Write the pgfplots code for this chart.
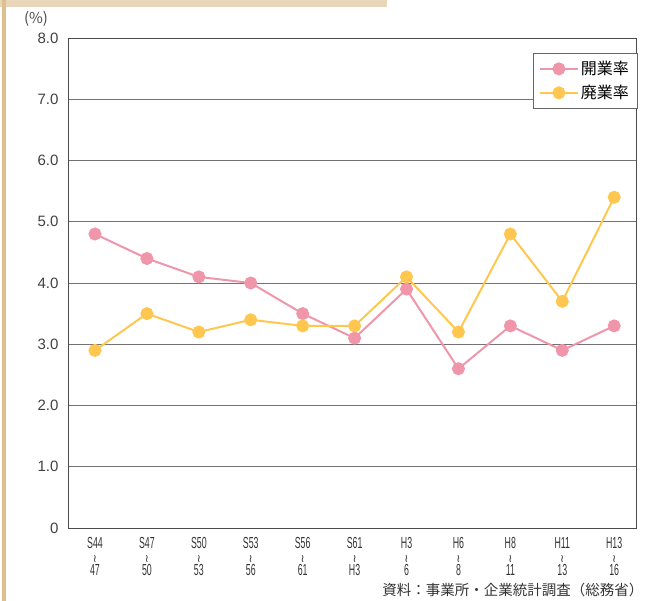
\documentclass[border=0pt]{standalone}
\usepackage{pgfplots}
\pgfplotsset{compat=1.18}
\usepackage{fontspec}
\setmainfont{Liberation Sans}
\newfontfamily\cjk{Noto Sans CJK JP}
\newfontfamily\dejavu{DejaVu Sans}
\newfontfamily\narrow[FakeStretch=0.55]{Liberation Sans}
\definecolor{kaigyo}{HTML}{F096AA}
\definecolor{haigyo}{HTML}{FFC74F}
\definecolor{tan}{HTML}{E9D6B8}
\definecolor{tanline}{HTML}{DDBF90}
\pgfplotstableread{
x open close
0 4.8 2.9
1 4.4 3.5
2 4.1 3.2
3 4.0 3.4
4 3.5 3.3
5 3.1 3.3
6 3.9 4.1
7 2.6 3.2
8 3.3 4.8
9 2.9 3.7
10 3.3 5.4
}\rates
\newcommand{\kara}{{\dejavu\fontsize{11bp}{11bp}\selectfont ≀}}
\newcommand{\lab}[2]{#1\\\kara\\#2}
\begin{document}
\begin{tikzpicture}[x=1bp,y=-1bp]
\path (0,0) rectangle (651,601);
\fill[tan] (0,0) rectangle (387,7);
\fill[tanline] (1.5,0) rectangle (6,601);
\begin{axis}[
  at={(68bp,-528bp)}, anchor=south west,
  scale only axis, width=568bp, height=490bp,
  xmin=-0.52, xmax=10.42, ymin=0, ymax=8,
  ytick={0,1,...,8},
  yticklabels={0,1.0,2.0,3.0,4.0,5.0,6.0,7.0,8.0},
  xtick={0,...,10},
  xticklabels={\lab{S44}{47},\lab{S47}{50},\lab{S50}{53},\lab{S53}{56},\lab{S56}{61},\lab{S61}{H3},\lab{H3}{6},\lab{H6}{8},\lab{H8}{11},\lab{H11}{13},\lab{H13}{16}},
  x tick label style={font=\narrow\fontsize{16bp}{13.5bp}\selectfont, align=center, text=black!80, yshift=-6bp},
  y tick label style={font=\fontsize{15bp}{17bp}\selectfont, text=black!75, xshift=-6bp},
  /pgf/number format/assume math mode=true,
  major tick length=0pt,
  ymajorgrids, grid style={black!55, line width=0.8bp},
  axis line style={black!70, line width=0.9bp},
  legend style={at={(1.002,0.969)}, anchor=north east, draw=black!60,
    font=\cjk\fontsize{16bp}{18bp}\selectfont, row sep=5bp, inner xsep=6bp, inner ysep=6bp},
  legend cell align=left,
  legend image code/.code={\draw[mark repeat=2,mark phase=2] plot coordinates {(0bp,0bp) (19bp,0bp) (38bp,0bp)};},
]
\addplot[kaigyo, line width=2bp, mark=*, mark size=5.5bp, mark options={fill=kaigyo, draw=kaigyo}] table[x=x, y=open] {\rates};
\addlegendentry{開業率}
\addplot[haigyo, line width=2bp, mark=*, mark size=5.5bp, mark options={fill=haigyo, draw=haigyo}] table[x=x, y=close] {\rates};
\addlegendentry{廃業率}
\end{axis}
\node[anchor=base, text=black!70, font=\cjk\fontsize{15bp}{16bp}\selectfont] at (36,24) {(\%)};
\node[anchor=base east, text=black!80, font=\cjk\fontsize{14.5bp}{16bp}\selectfont] at (647,595) {資料：事業所・企業統計調査（総務省）};
\end{tikzpicture}
\end{document}
